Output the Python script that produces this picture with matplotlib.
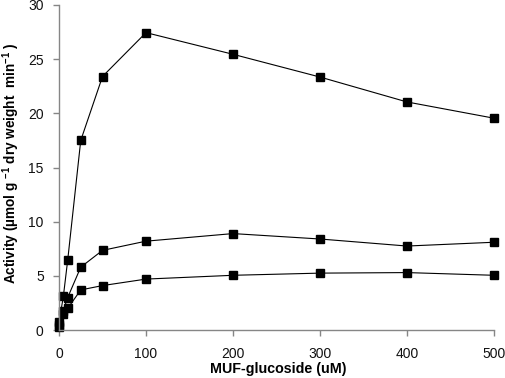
import numpy as np
import matplotlib
matplotlib.use('Agg')
import matplotlib.pyplot as plt

plt.rcParams['font.family'] = ['Liberation Sans', 'DejaVu Sans']
plt.rcParams['mathtext.fontset'] = 'custom'
plt.rcParams['mathtext.rm'] = 'Liberation Sans'
plt.rcParams['mathtext.bf'] = 'Liberation Sans:bold'

# MUF-glucoside concentration (uM)
conc = [0, 5, 10, 25, 50, 100, 200, 300, 400, 500]

# activity of the three series
act_high = [0.7, 3.1, 6.45, 17.5, 23.4, 27.45, 25.45, 23.35, 21.05, 19.55]
act_mid = [0.5, 1.8, 3.0, 5.8, 7.35, 8.2, 8.9, 8.4, 7.75, 8.1]
act_low = [0.3, 1.5, 2.0, 3.7, 4.1, 4.7, 5.05, 5.25, 5.3, 5.05]

fig = plt.figure(figsize=(5.05, 3.78), dpi=100)
ax = fig.add_axes([59 / 505, 48 / 378, 435 / 505, 325 / 378])

for y in (act_high, act_mid, act_low):
    ax.plot(conc, y, color='black', lw=0.8, marker='s', markersize=5.8,
            markerfacecolor='black', markeredgecolor='black', clip_on=False)

ax.set_xlim(0, 500)
ax.set_ylim(0, 30)
ax.set_xticks([0, 100, 200, 300, 400, 500])
ax.set_yticks([0, 5, 10, 15, 20, 25, 30])

for s in ('top', 'right'):
    ax.spines[s].set_visible(False)
for s in ('left', 'bottom'):
    ax.spines[s].set_color('#868686')
    ax.spines[s].set_linewidth(1.0)
ax.tick_params(axis='both', direction='out', length=4, width=1.0, color='#868686',
               labelsize=10, labelcolor='#111111')
ax.tick_params(axis='x', pad=8)
ax.tick_params(axis='y', pad=7)

ax.set_xlabel('MUF-glucoside (uM)', fontsize=10.3, fontweight='bold')
ax.xaxis.set_label_coords(0.505, -0.1)

# y label placed in figure pixels, close to the left edge as in the reference
fig.text(11 / 505, 1 - 163 / 378,
         r'Activity (µmol g $^{\mathbf{-1}}$ dry weight  min$^{\mathbf{-1}}$ )',
         fontsize=9.8, fontweight='bold', rotation=90, ha='center', va='center')

fig.savefig('out.png', dpi=100)
